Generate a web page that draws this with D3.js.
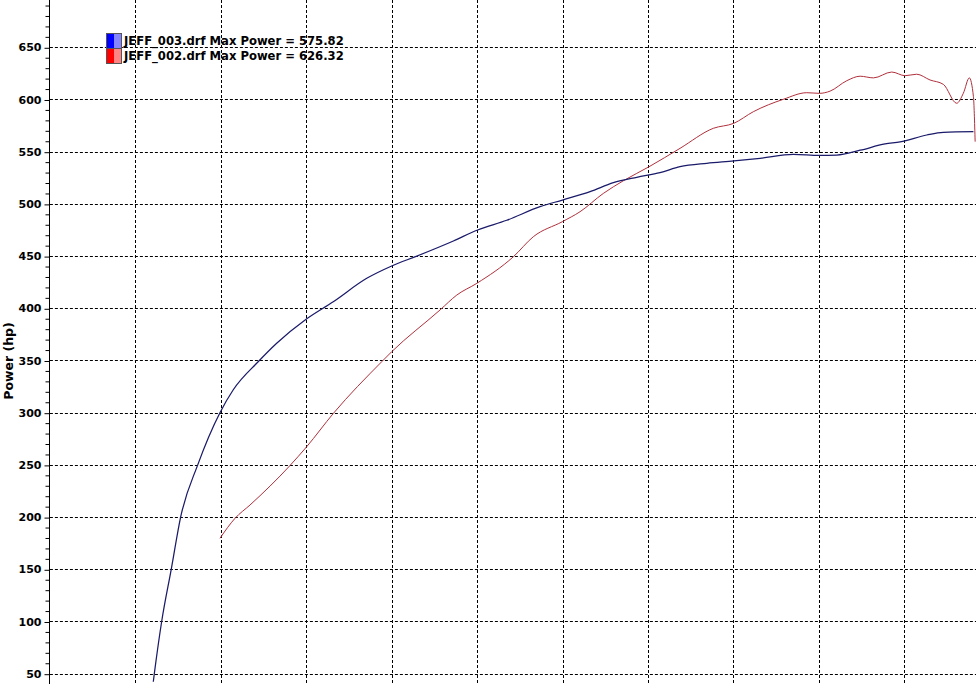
<!DOCTYPE html>
<html>
<head>
<meta charset="utf-8">
<script src="https://cdn.jsdelivr.net/npm/d3@7"></script>
<style>
    html, body { margin: 0; padding: 0; background: #fff; }
    svg { display: block; }
    text { font-family: "DejaVu Sans", Verdana, sans-serif; font-weight: bold; }
</style>
</head>
<body>
<div id="chart"></div>
<script>
// run JEFF_003 (blue) - engine speed (rpm) and power (hp)
var rpm003 = [2605, 2611, 2654, 2710, 2765, 2865, 2995, 3073, 3220, 3327, 3499, 3658, 3854, 4000, 4147,
    4361, 4503, 4673, 4868, 4999, 5161, 5297, 5434, 5570, 5687, 5844, 6002, 6156, 6350, 6503, 6604,
    6741, 6887, 6975, 7131, 7228, 7404];
var hp003 = [42.3, 50, 100, 150, 200, 250, 300, 322, 349, 366.5, 389.5, 406.3, 428.7, 440.5, 450,
    464.5, 475, 484.3, 497.3, 503.7, 511.7, 520.3, 525.5, 529.9, 535.6, 538.9, 541.1, 543.7, 547.5, 546.5, 546.8,
    551.4, 557.4, 559.3, 566, 568.6, 569.2];

// run JEFF_002 (red)
var rpm002 = [2995, 3083, 3171, 3405, 3503, 3659, 3942, 4000, 4283, 4381, 4498, 4712, 4829, 4999, 5102,
    5238, 5356, 5506, 5687, 5882, 6002, 6116, 6292, 6429, 6503, 6565, 6663, 6741, 6819, 6926, 7004,
    7072, 7150, 7228, 7306, 7345, 7380, 7404, 7414];
var hp002 = [179.7, 198.8, 211.6, 249.4, 267.5, 299.4, 348.9, 358.4, 398.4, 412.7, 423.9, 449.4, 468.6, 483, 492.5,
    510, 522.2, 535.6, 553.2, 572.4, 577.2, 588.3, 600.2, 606.5, 605.9, 608, 618, 622.3, 620.7, 626.3, 622.8,
    624.2, 618.7, 614.5, 596.4, 606, 620.7, 602.7, 559.6];

var legendLabels = ["JEFF_003.drf Max Power = 575.82", "JEFF_002.drf Max Power = 626.32"];
var yTicks = [50, 100, 150, 200, 250, 300, 350, 400, 450, 500, 550, 600, 650];
var rpmGrid = [2500, 3000, 3500, 4000, 4500, 5000, 5500, 6000, 6500, 7000];

(function() {
    var width = 976, height = 684;
    var axisX = 49.9;

    var svg = d3.select("#chart").append("svg")
        .attr("width", width)
        .attr("height", height);

    var x = d3.scaleLinear()
        .domain([2000, 7419])
        .range([axisX, width]);

    var y = d3.scaleLinear()
        .domain([40.13, 695.3])
        .range([height, 0]);

    // grid lines (dashed)
    svg.append("g").selectAll("line.hgrid")
        .data(yTicks)
        .enter().append("line")
        .attr("class", "hgrid")
        .attr("x1", axisX)
        .attr("x2", width)
        .attr("y1", d => Math.round(y(d)) + 0.5)
        .attr("y2", d => Math.round(y(d)) + 0.5)
        .attr("stroke", "#000")
        .attr("stroke-dasharray", "3,2");

    svg.append("g").selectAll("line.vgrid")
        .data(rpmGrid)
        .enter().append("line")
        .attr("class", "vgrid")
        .attr("x1", d => Math.round(x(d)) + 0.5)
        .attr("x2", d => Math.round(x(d)) + 0.5)
        .attr("y1", 0)
        .attr("y2", height)
        .attr("stroke", "#000")
        .attr("stroke-dasharray", "3,2");

    // y axis with minor ticks
    var minor = d3.range(40, 700, 10).filter(v => v % 50 != 0);
    svg.append("g")
        .attr("transform", "translate(" + (Math.round(axisX) - 0.5) + ",0)")
        .call(d3.axisLeft(y).tickValues(minor).tickSize(4).tickFormat(""))
        .call(g => g.select(".domain").remove());

    var yAxis = svg.append("g")
        .attr("transform", "translate(" + (Math.round(axisX) - 0.5) + ",0)")
        .call(d3.axisLeft(y).tickValues(yTicks).tickSize(5).tickPadding(3));
    yAxis.select(".domain").attr("d", "M0,0V" + height);
    yAxis.selectAll(".tick line").attr("transform", "translate(0,0.5)");
    yAxis.selectAll("text")
        .attr("font-family", "DejaVu Sans")
        .attr("font-weight", "bold")
        .attr("font-size", 11)
        .attr("fill", "#000");

    svg.append("text")
        .attr("transform", "translate(12.5," + 361 + ") rotate(-90)")
        .attr("text-anchor", "middle")
        .attr("font-size", 12.5)
        .text("Power (hp)");

    // curves
    var line = d3.line()
        .x(d => x(d[0]))
        .y(d => y(d[1]))
        .curve(d3.curveMonotoneX);

    var series = [
        { pts: d3.zip(rpm002, hp002), color: "#b0303c", w: 1 },
        { pts: d3.zip(rpm003, hp003), color: "#1a1a6a", w: 1.25 }
    ];

    svg.selectAll(".curve")
        .data(series)
        .enter().append("path")
        .attr("class", "curve")
        .attr("d", d => line(d.pts))
        .attr("fill", "none")
        .attr("stroke", d => d.color)
        .attr("stroke-width", d => d.w);

    // legend
    var swatches = [["#0000ff", "#8585ff"], ["#ff0000", "#ff8585"]];
    var legend = svg.append("g").attr("transform", "translate(106,33)");
    legendLabels.forEach(function(label, i) {
        var g = legend.append("g").attr("transform", "translate(0," + (i * 15) + ")");
        g.append("rect").attr("x", 0).attr("y", 0).attr("width", 8).attr("height", 15).attr("fill", swatches[i][0]);
        g.append("rect").attr("x", 8).attr("y", 0).attr("width", 7).attr("height", 15).attr("fill", swatches[i][1]);
        g.append("rect").attr("x", 0.5).attr("y", 0.5).attr("width", 15).attr("height", 15)
            .attr("fill", "none").attr("stroke", "#555");
        g.append("text")
            .attr("x", 18)
            .attr("y", 11.5)
            .attr("font-size", 11.6)
            .attr("fill", "#000")
            .text(label);
    });
})();
</script>
</body>
</html>
